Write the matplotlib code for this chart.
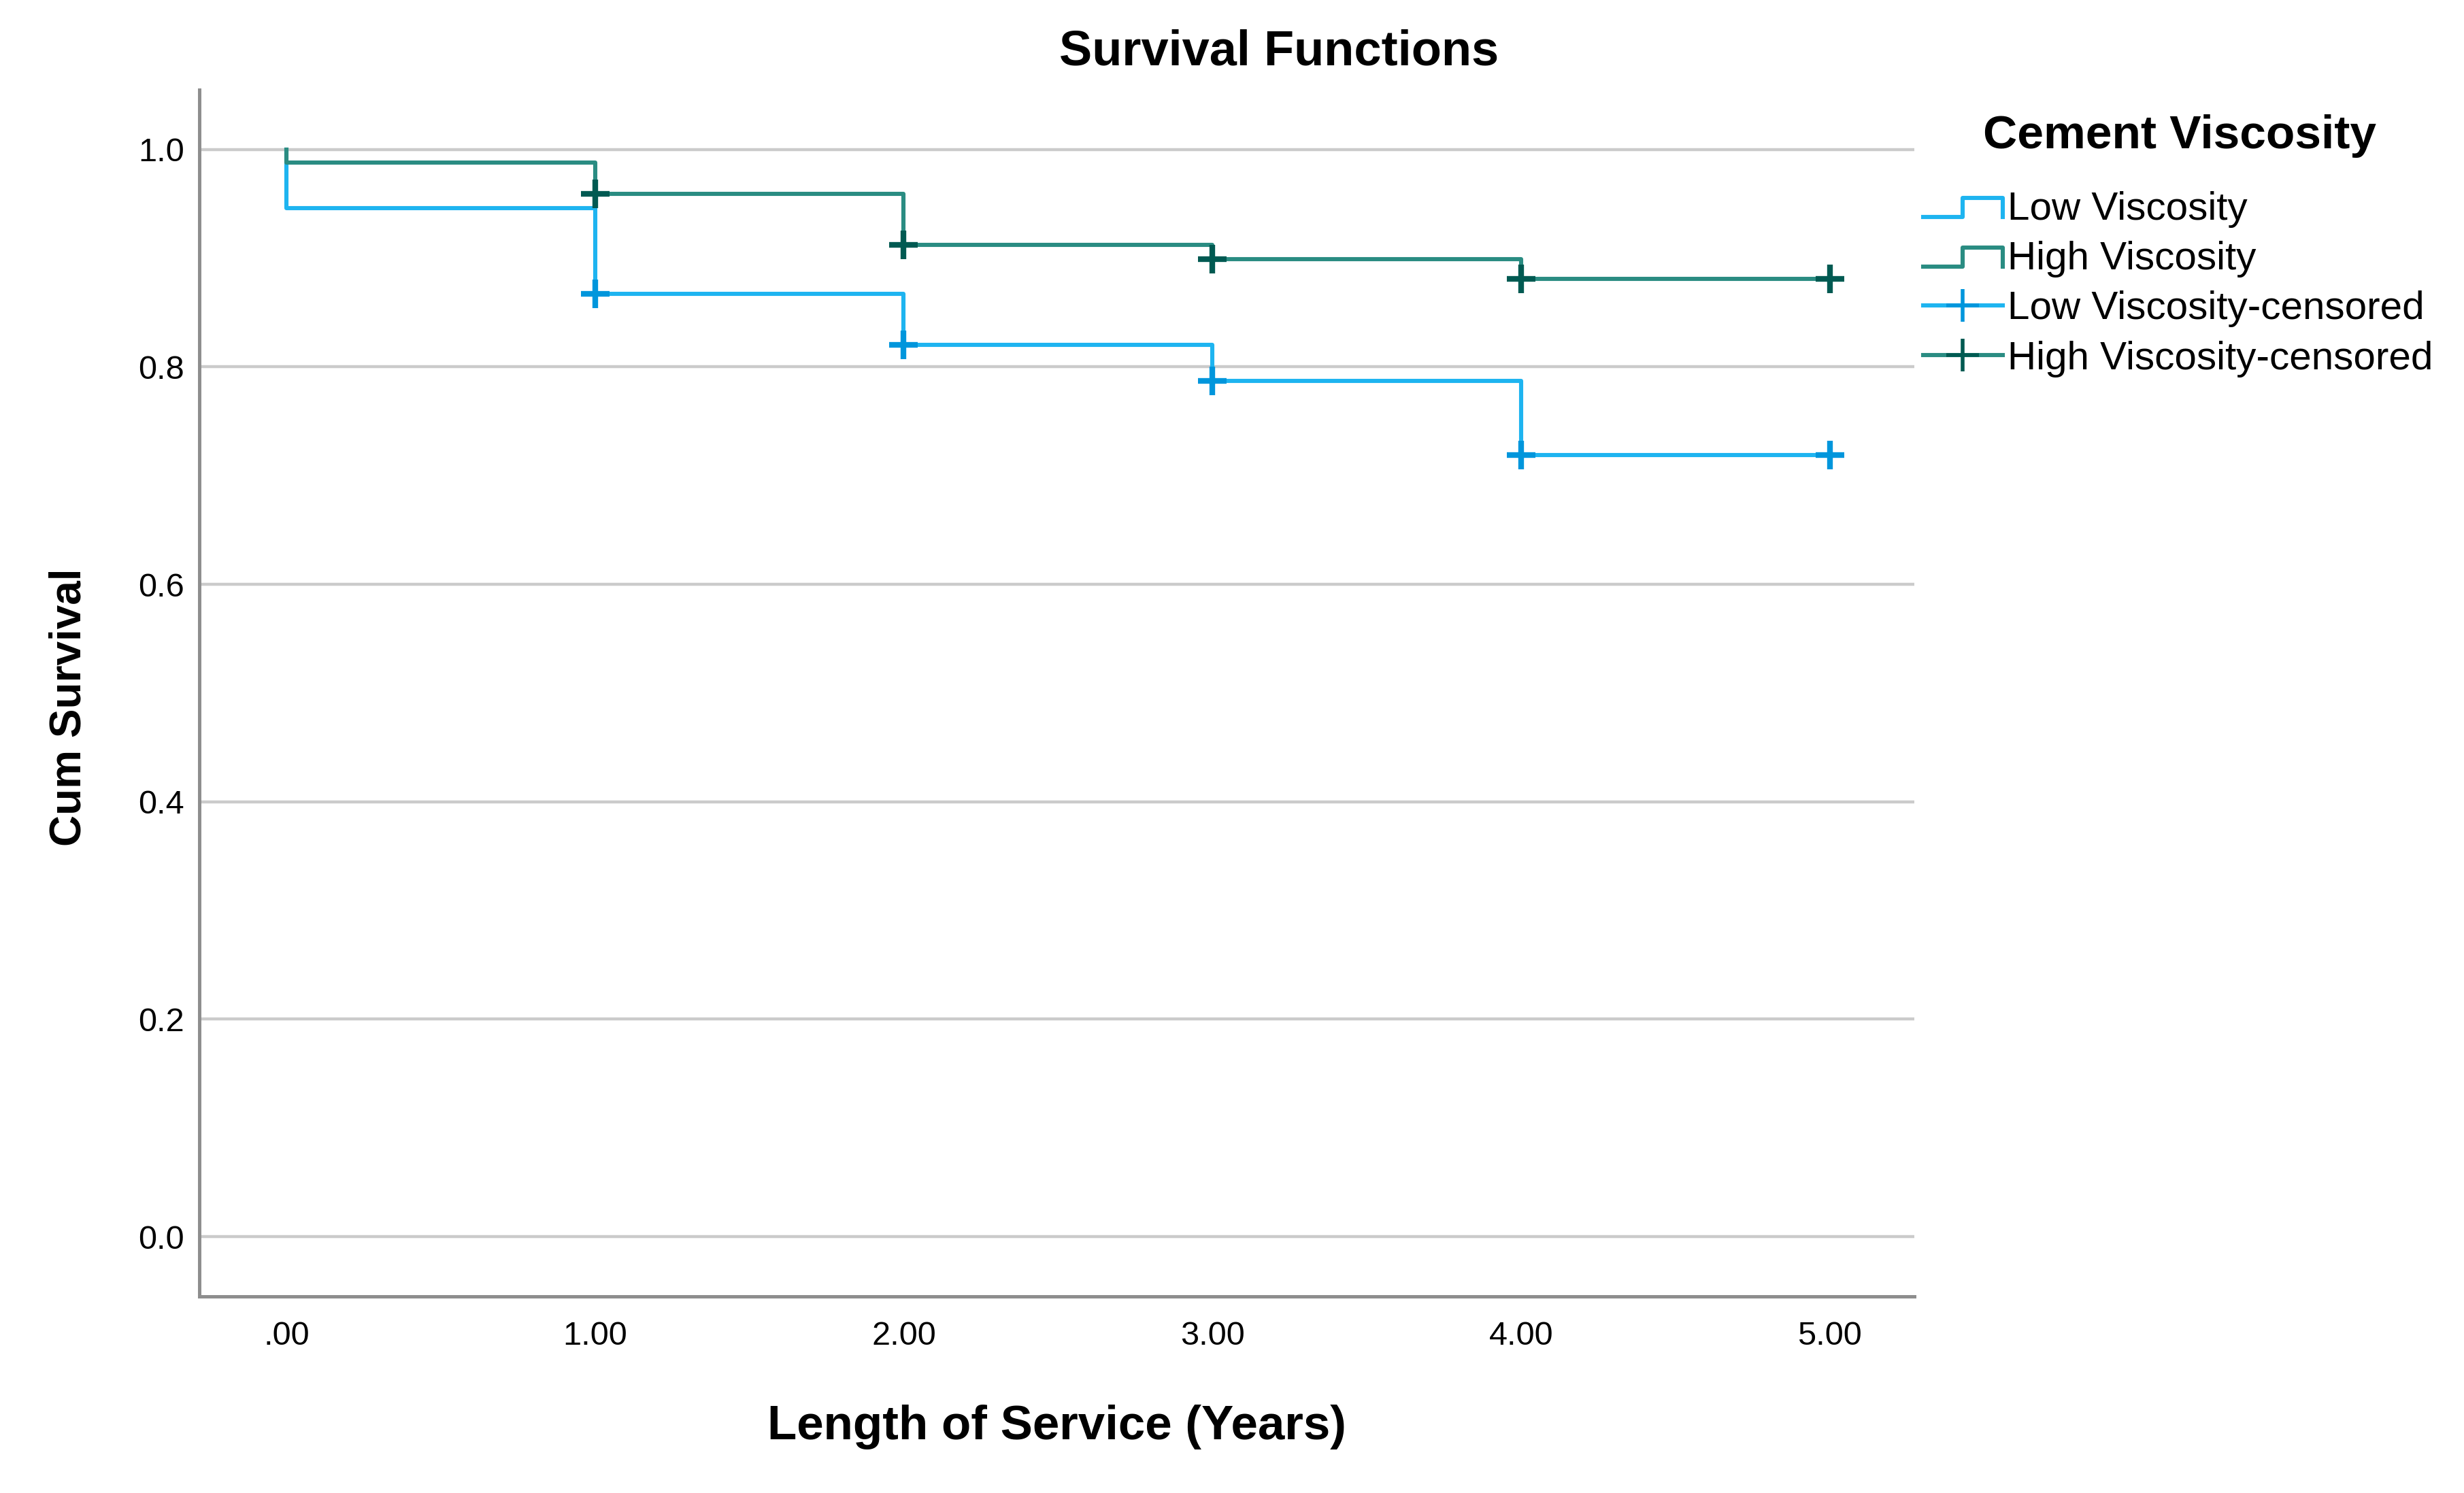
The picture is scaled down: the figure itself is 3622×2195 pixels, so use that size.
import numpy as np
import matplotlib
matplotlib.use("Agg")
import matplotlib.pyplot as plt
from matplotlib.lines import Line2D
from matplotlib.legend_handler import HandlerBase

plt.rcParams['font.family'] = ['Liberation Sans', 'DejaVu Sans']

# ---- data ----
event_times = [0, 0, 1, 2, 3, 4, 5]
surv_low = [1.0, 0.946, 0.867, 0.820, 0.787, 0.719, 0.719]
surv_high = [1.0, 0.988, 0.959, 0.912, 0.899, 0.881, 0.881]

cens_times = [1, 2, 3, 4, 5]
cens_low = [0.867, 0.820, 0.787, 0.719, 0.719]
cens_high = [0.959, 0.912, 0.899, 0.881, 0.881]

x_ticks = [0, 1, 2, 3, 4, 5]
x_ticklabels = ['.00', '1.00', '2.00', '3.00', '4.00', '5.00']
y_ticks = [0.0, 0.2, 0.4, 0.6, 0.8, 1.0]
y_ticklabels = ['0.0', '0.2', '0.4', '0.6', '0.8', '1.0']

group_labels = ['Low Viscosity', 'High Viscosity',
                'Low Viscosity-censored', 'High Viscosity-censored']

# ---- colours ----
c_low = '#1EB4F0'
c_low_mark = '#0096DC'
c_high = '#2A8C82'
c_high_mark = '#005A52'
c_grid = '#CBCBCB'
c_spine = '#8E8E8E'
LW = 2.2

fig = plt.figure(figsize=(18.11, 10.975), dpi=200)
ax = fig.add_axes([0.0809, 0.1317, 0.696, 0.8082])

ax.step(event_times, surv_low, where='post', color=c_low, lw=LW, zorder=3)
ax.step(event_times, surv_high, where='post', color=c_high, lw=LW, zorder=4)
ax.plot(cens_times, cens_low, ls='none', marker='+', ms=15, mew=3,
        color=c_low_mark, zorder=5)
ax.plot(cens_times, cens_high, ls='none', marker='+', ms=15, mew=3,
        color=c_high_mark, zorder=6)

ax.set_xlim(-0.282, 5.274)
ax.set_ylim(-0.055, 1.055)
ax.set_xticks(x_ticks)
ax.set_xticklabels(x_ticklabels)
ax.set_yticks(y_ticks)
ax.set_yticklabels(y_ticklabels)
ax.tick_params(length=0, labelsize=17.5)
ax.tick_params(axis='x', pad=13)
ax.tick_params(axis='y', pad=8)

ax.yaxis.grid(True, color=c_grid, lw=1.6)
ax.set_axisbelow(True)
for s in ['top', 'right']:
    ax.spines[s].set_visible(False)
for s in ['left', 'bottom']:
    ax.spines[s].set_color(c_spine)
    ax.spines[s].set_linewidth(1.8)

ax.set_xlabel('Length of Service (Years)', fontsize=25.5, fontweight='bold', labelpad=28)
ax.set_ylabel('Cum Survival', fontsize=23, fontweight='bold')
ax.yaxis.set_label_coords(-0.064, 0.488)
fig.text(0.519, 0.965, 'Survival Functions', fontsize=26, fontweight='bold',
         ha='center', va='center')
fig.text(0.8845, 0.909, 'Cement Viscosity', fontsize=25, fontweight='bold',
         ha='center', va='center')


# legend handle shaped like a survival step
class StepHandler(HandlerBase):
    def __init__(self, color):
        super().__init__()
        self.color = color

    def create_artists(self, legend, orig_handle, xdescent, ydescent,
                       width, height, fontsize, trans):
        x0 = -xdescent
        lo = -ydescent + height * 0.1
        hi = -ydescent + height * 0.78
        xs = [x0, x0 + width * 0.5, x0 + width * 0.5, x0 + width, x0 + width]
        ys = [lo, lo, hi, hi, lo]
        ln = Line2D(xs, ys, color=self.color, lw=LW, transform=trans)
        return [ln]


h_low = Line2D([], [], color=c_low)
h_high = Line2D([], [], color=c_high)
h_low_c = Line2D([0, 1], [0, 0], color=c_low, lw=LW, marker='+', ms=17,
                 mew=2, markeredgecolor=c_low_mark)
h_high_c = Line2D([0, 1], [0, 0], color=c_high, lw=LW, marker='+', ms=17,
                  mew=2, markeredgecolor=c_high_mark)

leg = fig.legend([h_low, h_high, h_low_c, h_high_c], group_labels,
                 handler_map={h_low: StepHandler(c_low), h_high: StepHandler(c_high)},
                 loc='upper left', bbox_to_anchor=(0.7805, 0.872), frameon=False,
                 fontsize=21, handlelength=2.0, handletextpad=0.12,
                 labelspacing=0.33, borderpad=0, borderaxespad=0, numpoints=1)

fig.savefig('out.png', dpi=200)
